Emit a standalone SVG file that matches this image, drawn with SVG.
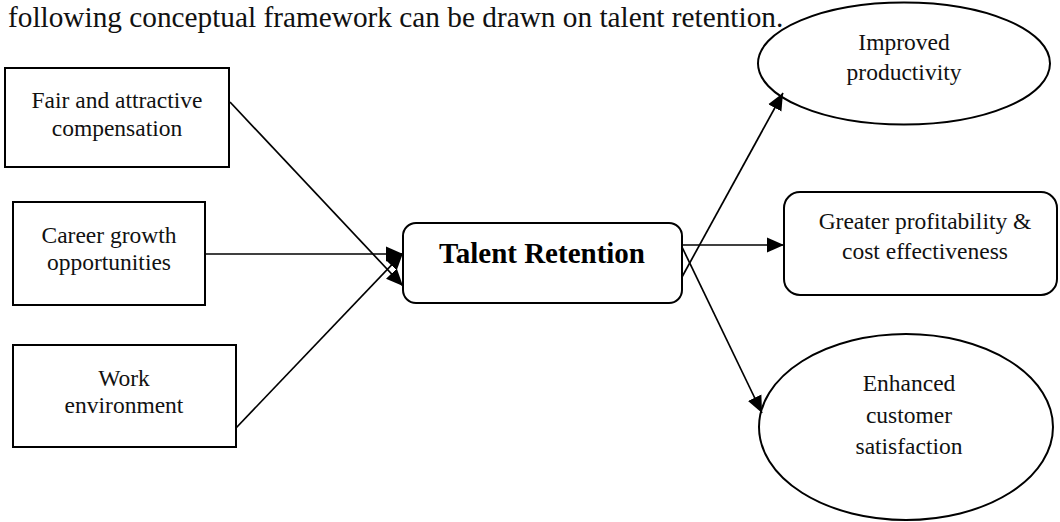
<svg xmlns="http://www.w3.org/2000/svg" width="1060" height="522" viewBox="0 0 1060 522">
  <style>
    .shape { fill: #ffffff; stroke: #000000; stroke-width: 2; }
    .label { font-family: "Liberation Serif", "Times New Roman", serif; font-size: 23.5px; fill: #111111; text-anchor: middle; }
    .title { font-family: "Liberation Serif", "Times New Roman", serif; font-size: 29.3px; fill: #111111; }
    .bold { font-family: "Liberation Serif", "Times New Roman", serif; font-size: 29px; font-weight: bold; fill: #000000; text-anchor: middle; }
    .edge { fill: none; stroke: #000000; stroke-width: 1.7; marker-end: url(#arrow); }
  </style>
  <defs>
    <marker id="arrow" markerUnits="userSpaceOnUse" markerWidth="17" markerHeight="16" viewBox="0 0 17 16" refX="17" refY="8" orient="auto">
      <path d="M0,0.5 L17,8 L0,15.5 Z" fill="#000000"/>
    </marker>
  </defs>
  <rect width="1060" height="522" fill="#ffffff"/>

  <text class="title" x="8" y="27">following conceptual framework can be drawn on talent retention.</text>

  <g id="node-compensation">
    <rect class="shape" x="5" y="68" width="224" height="99"/>
    <text class="label" x="117" y="108">Fair and attractive</text>
    <text class="label" x="117" y="136">compensation</text>
  </g>

  <g id="node-career">
    <rect class="shape" x="13" y="202" width="192" height="103"/>
    <text class="label" x="109" y="243">Career growth</text>
    <text class="label" x="109" y="270">opportunities</text>
  </g>

  <g id="node-environment">
    <rect class="shape" x="13" y="345" width="223" height="102"/>
    <text class="label" x="124" y="386">Work</text>
    <text class="label" x="124" y="413">environment</text>
  </g>

  <g id="node-retention">
    <rect class="shape" x="403" y="223" width="279" height="80" rx="13" ry="13"/>
    <text class="bold" x="542" y="263">Talent Retention</text>
  </g>

  <g id="node-productivity">
    <ellipse class="shape" cx="904" cy="63.5" rx="146" ry="61"/>
    <text class="label" x="904" y="50">Improved</text>
    <text class="label" x="904" y="80">productivity</text>
  </g>

  <g id="node-profitability">
    <rect class="shape" x="784" y="192" width="273" height="103" rx="16" ry="16"/>
    <text class="label" x="925" y="229">Greater profitability &amp;</text>
    <text class="label" x="925" y="259">cost effectiveness</text>
  </g>

  <g id="node-satisfaction">
    <ellipse class="shape" cx="906" cy="427" rx="147" ry="93"/>
    <text class="label" x="909" y="391">Enhanced</text>
    <text class="label" x="909" y="423">customer</text>
    <text class="label" x="909" y="454">satisfaction</text>
  </g>

  <g id="connectors">
    <line class="edge" x1="230" y1="102" x2="403" y2="286"/>
    <line class="edge" x1="205" y1="254" x2="403" y2="254"/>
    <line class="edge" x1="236" y1="428" x2="403" y2="253"/>
    <line class="edge" x1="682" y1="277" x2="783" y2="93"/>
    <line class="edge" x1="682" y1="245" x2="784" y2="245"/>
    <line class="edge" x1="682" y1="247" x2="762" y2="413"/>
  </g>
</svg>
